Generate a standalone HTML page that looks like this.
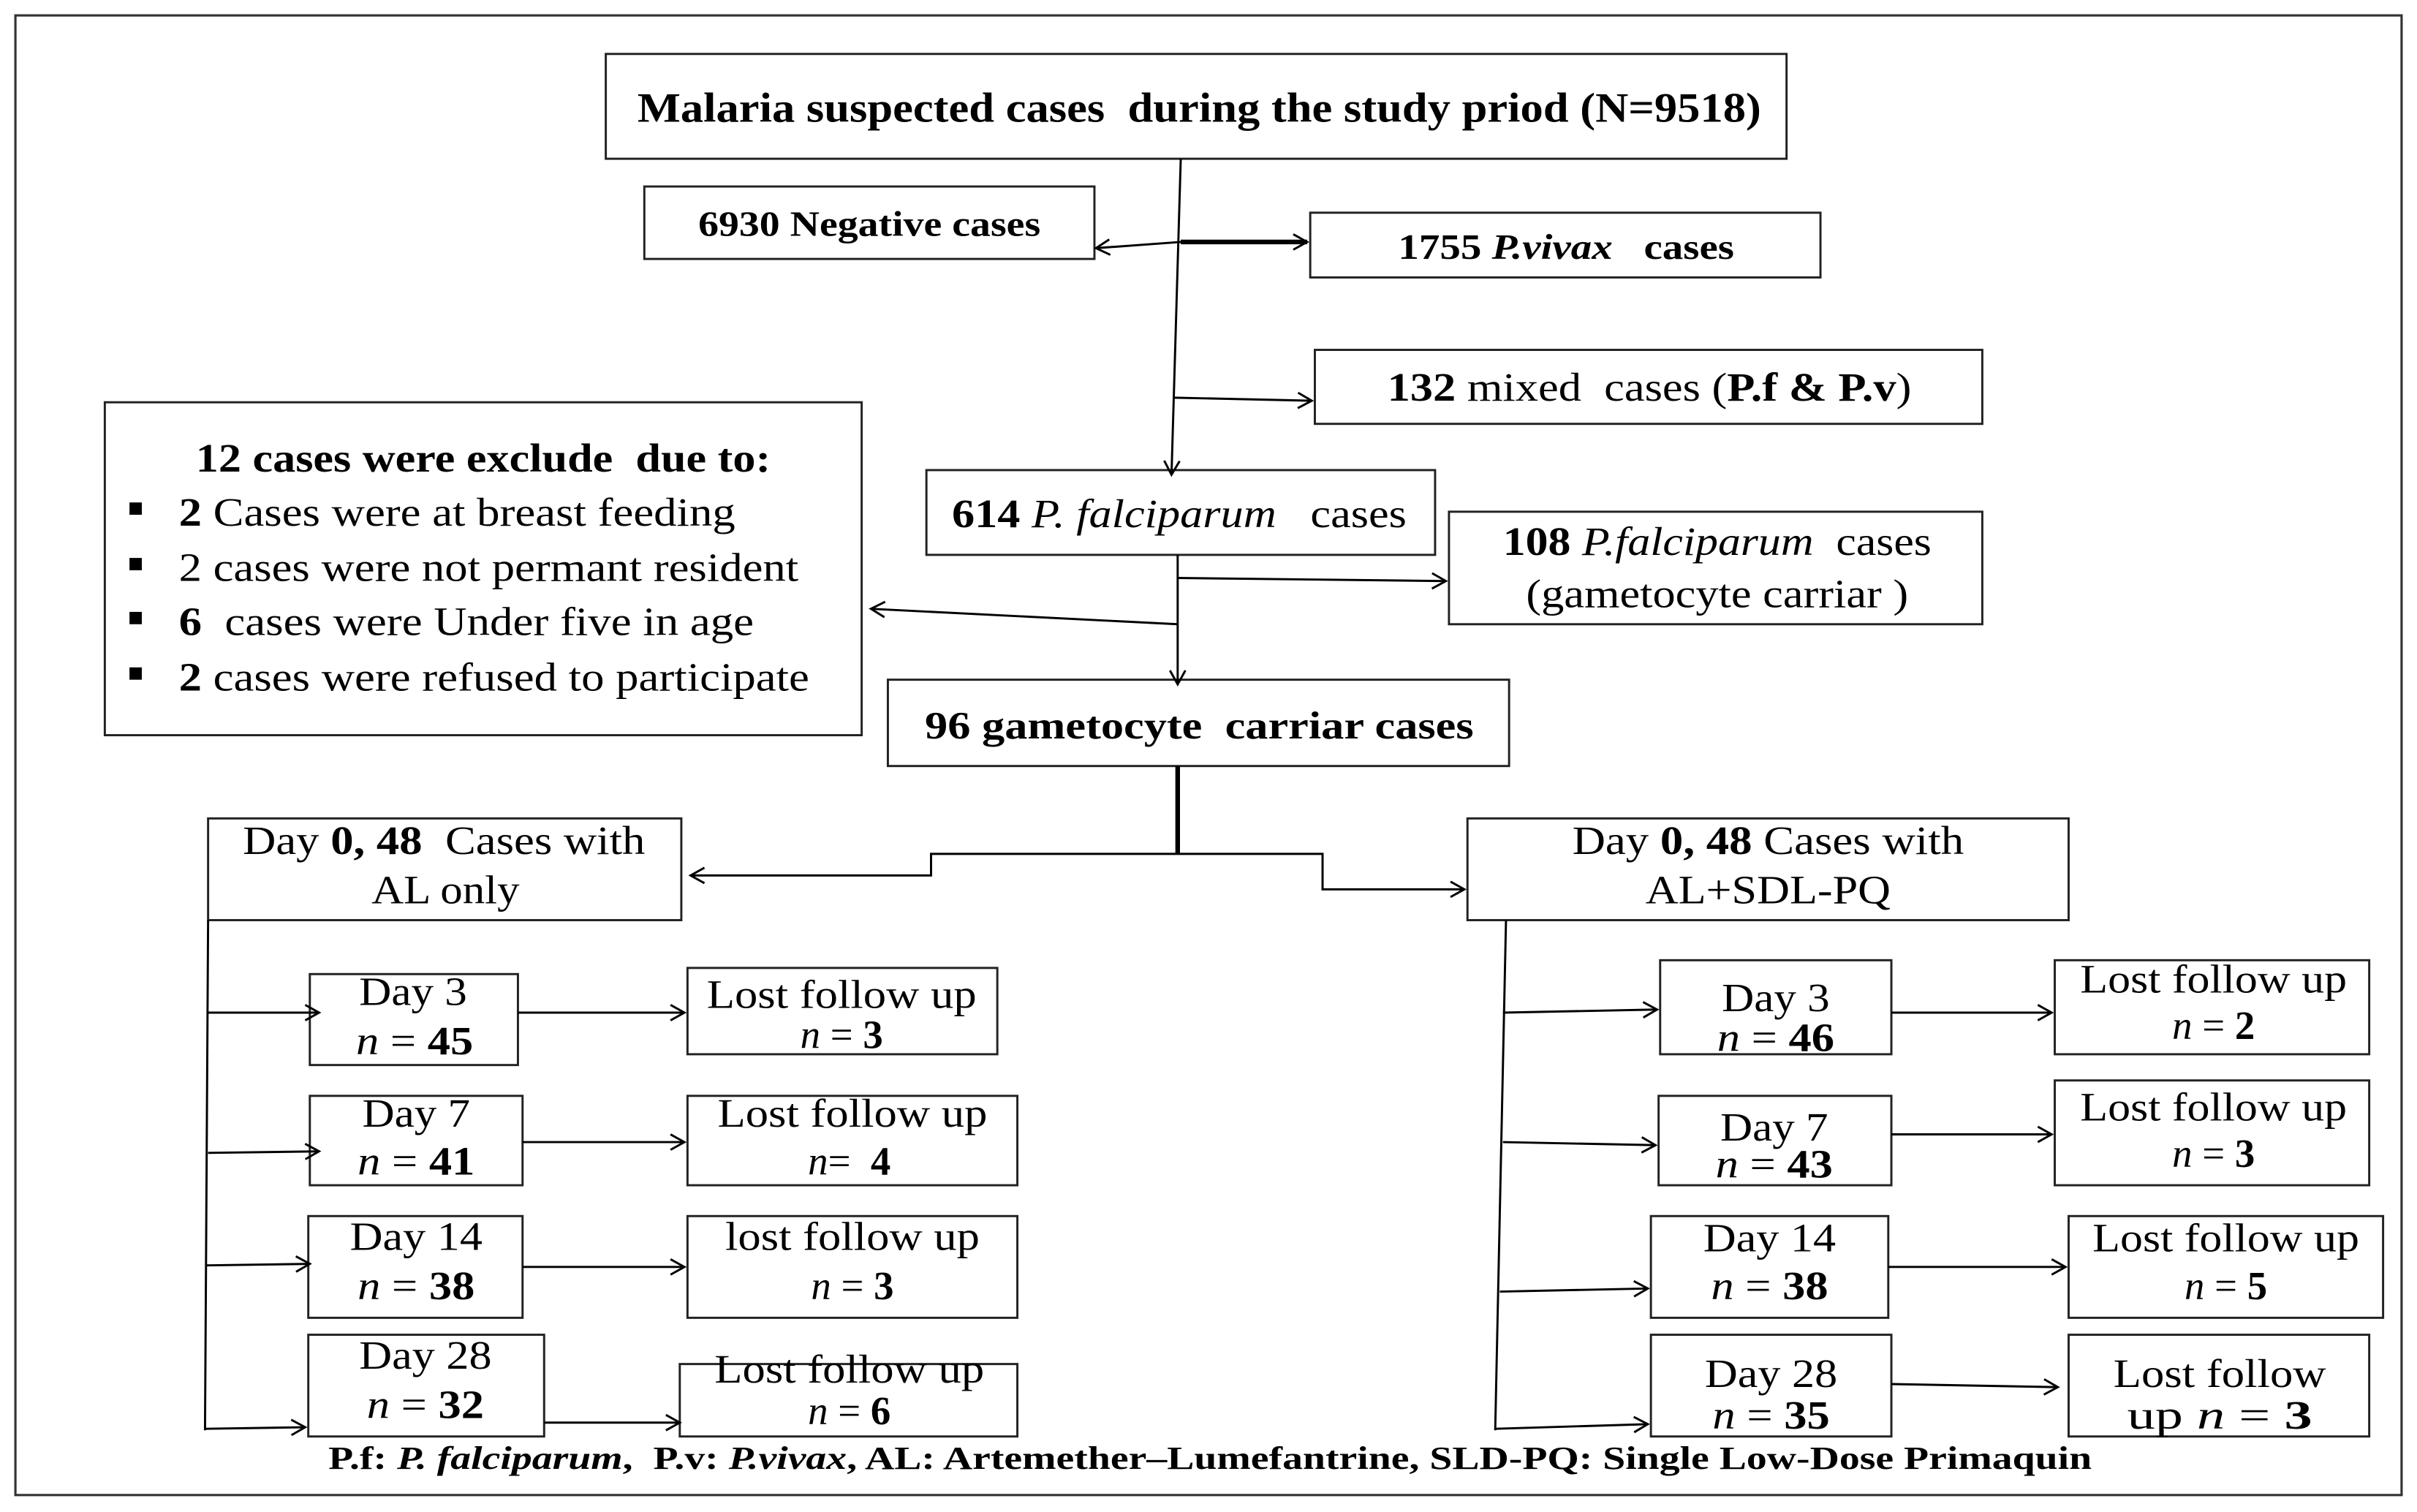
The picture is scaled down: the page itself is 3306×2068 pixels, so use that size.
<!DOCTYPE html>
<html><head><meta charset="utf-8"><style>
html,body{margin:0;padding:0;background:#fff;}
svg{display:block;}
text{font-family:"Liberation Serif",serif;fill:#000;white-space:pre;}
.b{font-weight:bold;}
</style></head><body>
<svg width="3306" height="2068" viewBox="0 0 1568 981" preserveAspectRatio="none" xmlns="http://www.w3.org/2000/svg" xml:space="preserve">
<defs><marker id="a" markerWidth="12" markerHeight="12" refX="10" refY="6" orient="auto" markerUnits="userSpaceOnUse"><polyline points="1,1 10,6 1,11" fill="none" stroke="#000" stroke-width="1.4"/></marker></defs>
<rect x="10" y="10" width="1548" height="960" fill="#fff" stroke="#333" stroke-width="1.5"/>
<g fill="#fff" stroke="#222" stroke-width="1.4">
<rect x="393" y="35" width="766" height="68"/>
<rect x="418" y="121" width="292" height="47"/>
<rect x="850" y="138" width="331" height="42"/>
<rect x="853" y="227" width="433" height="48"/>
<rect x="68" y="261" width="491" height="216"/>
<rect x="601" y="305" width="330" height="55"/>
<rect x="940" y="332" width="346" height="73"/>
<rect x="576" y="441" width="403" height="56"/>
<rect x="135" y="531" width="307" height="66"/>
<rect x="952" y="531" width="390" height="66"/>
<rect x="201" y="632" width="135" height="59"/>
<rect x="446" y="628" width="201" height="56"/>
<rect x="201" y="711" width="138" height="58"/>
<rect x="446" y="711" width="214" height="58"/>
<rect x="200" y="789" width="139" height="66"/>
<rect x="446" y="789" width="214" height="66"/>
<rect x="200" y="866" width="153" height="66"/>
<rect x="441" y="885" width="219" height="47"/>
<rect x="1077" y="623" width="150" height="61"/>
<rect x="1333" y="623" width="204" height="61"/>
<rect x="1076" y="711" width="151" height="58"/>
<rect x="1333" y="701" width="204" height="68"/>
<rect x="1071" y="789" width="154" height="66"/>
<rect x="1342" y="789" width="204" height="66"/>
<rect x="1071" y="866" width="156" height="66"/>
<rect x="1342" y="866" width="195" height="66"/>
</g>
<g stroke="#000" stroke-width="1.4" fill="none">
<line x1="766" y1="103" x2="760" y2="308" marker-end="url(#a)"/>
<line x1="766" y1="157" x2="848" y2="157" stroke-width="3" marker-end="url(#a)"/>
<line x1="766" y1="157" x2="711" y2="161" marker-end="url(#a)"/>
<line x1="761" y1="258" x2="851" y2="260" marker-end="url(#a)"/>
<line x1="764" y1="360" x2="764" y2="444" marker-end="url(#a)"/>
<line x1="764" y1="375" x2="938" y2="377" marker-end="url(#a)"/>
<line x1="764" y1="405" x2="565" y2="395" marker-end="url(#a)"/>
<line x1="764" y1="497" x2="764" y2="554" stroke-width="3"/>
<polyline points="764,554 604,554 604,568 448,568" marker-end="url(#a)"/>
<polyline points="764,554 858,554 858,577 950,577" marker-end="url(#a)"/>
<line x1="135" y1="597" x2="133" y2="928"/>
<line x1="135" y1="657" x2="207" y2="657" marker-end="url(#a)"/>
<line x1="135" y1="748" x2="207" y2="747" marker-end="url(#a)"/>
<line x1="134" y1="821" x2="201" y2="820" marker-end="url(#a)"/>
<line x1="133" y1="927" x2="198" y2="926" marker-end="url(#a)"/>
<line x1="977" y1="597" x2="970" y2="928"/>
<line x1="975" y1="657" x2="1075" y2="655" marker-end="url(#a)"/>
<line x1="975" y1="741" x2="1074" y2="743" marker-end="url(#a)"/>
<line x1="973" y1="838" x2="1069" y2="836" marker-end="url(#a)"/>
<line x1="970" y1="927" x2="1069" y2="924" marker-end="url(#a)"/>
<line x1="336" y1="657" x2="444" y2="657" marker-end="url(#a)"/>
<line x1="339" y1="741" x2="444" y2="741" marker-end="url(#a)"/>
<line x1="339" y1="822" x2="444" y2="822" marker-end="url(#a)"/>
<line x1="353" y1="923" x2="441" y2="923" marker-end="url(#a)"/>
<line x1="1227" y1="657" x2="1331" y2="657" marker-end="url(#a)"/>
<line x1="1227" y1="736" x2="1331" y2="736" marker-end="url(#a)"/>
<line x1="1225" y1="822" x2="1340" y2="822" marker-end="url(#a)"/>
<line x1="1227" y1="898" x2="1335" y2="900" marker-end="url(#a)"/>
</g>
<g font-size="26" text-anchor="middle">
<text x="778" y="79" class="b" font-size="27" textLength="729" lengthAdjust="spacingAndGlyphs">Malaria suspected cases  during the study priod (N=9518)</text>
<text x="564" y="153" class="b" font-size="23" textLength="222" lengthAdjust="spacingAndGlyphs">6930 Negative cases</text>
<text x="1016" y="168" class="b" font-size="23" textLength="218" lengthAdjust="spacingAndGlyphs">1755 <tspan font-style="italic">P.vivax</tspan>   cases</text>
<text x="1070" y="260" textLength="340" lengthAdjust="spacingAndGlyphs"><tspan class="b">132</tspan> mixed  cases (<tspan class="b">P.f &amp; P.v</tspan>)</text>
<text x="765" y="342" textLength="295" lengthAdjust="spacingAndGlyphs"><tspan class="b">614</tspan> <tspan font-style="italic">P. falciparum</tspan>   cases</text>
<text x="1114" y="360" textLength="278" lengthAdjust="spacingAndGlyphs"><tspan class="b">108</tspan> <tspan font-style="italic">P.falciparum</tspan>  cases</text>
<text x="1114" y="394" textLength="248" lengthAdjust="spacingAndGlyphs">(gametocyte carriar )</text>
<text x="778" y="479" class="b" font-size="25" textLength="356" lengthAdjust="spacingAndGlyphs">96 gametocyte  carriar cases</text>
<text x="288" y="554" textLength="261" lengthAdjust="spacingAndGlyphs">Day <tspan class="b">0, 48</tspan>  Cases with</text>
<text x="289" y="586" textLength="96" lengthAdjust="spacingAndGlyphs">AL only</text>
<text x="1147" y="554" textLength="254" lengthAdjust="spacingAndGlyphs">Day <tspan class="b">0, 48</tspan> Cases with</text>
<text x="1147" y="586" textLength="159" lengthAdjust="spacingAndGlyphs">AL+SDL-PQ</text>
</g>
<g font-size="26">
<text x="127" y="306" class="b" textLength="373" lengthAdjust="spacingAndGlyphs">12 cases were exclude  due to:</text>
<rect x="84" y="326" width="8" height="8"/><rect x="84" y="362" width="8" height="8"/><rect x="84" y="397" width="8" height="8"/><rect x="84" y="433" width="8" height="8"/>
<text x="116" y="341" textLength="361" lengthAdjust="spacingAndGlyphs"><tspan class="b">2</tspan> Cases were at breast feeding</text>
<text x="116" y="377" textLength="402" lengthAdjust="spacingAndGlyphs">2 cases were not permant resident</text>
<text x="116" y="412" textLength="373" lengthAdjust="spacingAndGlyphs"><tspan class="b">6</tspan>  cases were Under five in age</text>
<text x="116" y="448" textLength="409" lengthAdjust="spacingAndGlyphs"><tspan class="b">2</tspan> cases were refused to participate</text>
</g>
<g font-size="26" text-anchor="middle">
<text x="268" y="652" textLength="70" lengthAdjust="spacingAndGlyphs">Day 3</text><text x="269" y="684" textLength="76" lengthAdjust="spacingAndGlyphs"><tspan font-style="italic">n</tspan> = <tspan class="b">45</tspan></text>
<text x="546" y="654" textLength="175" lengthAdjust="spacingAndGlyphs">Lost follow up</text><text x="546" y="680"><tspan font-style="italic">n</tspan> = <tspan class="b">3</tspan></text>
<text x="270" y="731" textLength="70" lengthAdjust="spacingAndGlyphs">Day 7</text><text x="270" y="762" textLength="76" lengthAdjust="spacingAndGlyphs"><tspan font-style="italic">n</tspan> = <tspan class="b">41</tspan></text>
<text x="553" y="731" textLength="175" lengthAdjust="spacingAndGlyphs">Lost follow up</text><text x="551" y="762"><tspan font-style="italic">n</tspan>=  <tspan class="b">4</tspan></text>
<text x="270" y="811" textLength="86" lengthAdjust="spacingAndGlyphs">Day 14</text><text x="270" y="843" textLength="76" lengthAdjust="spacingAndGlyphs"><tspan font-style="italic">n</tspan> = <tspan class="b">38</tspan></text>
<text x="553" y="811" textLength="165" lengthAdjust="spacingAndGlyphs">lost follow up</text><text x="553" y="843"><tspan font-style="italic">n</tspan> = <tspan class="b">3</tspan></text>
<text x="276" y="888" textLength="86" lengthAdjust="spacingAndGlyphs">Day 28</text><text x="276" y="920" textLength="76" lengthAdjust="spacingAndGlyphs"><tspan font-style="italic">n</tspan> = <tspan class="b">32</tspan></text>
<text x="551" y="897" textLength="175" lengthAdjust="spacingAndGlyphs">Lost follow up</text><text x="551" y="924"><tspan font-style="italic">n</tspan> = <tspan class="b">6</tspan></text>
<text x="1152" y="656" textLength="70" lengthAdjust="spacingAndGlyphs">Day 3</text><text x="1152" y="682" textLength="76" lengthAdjust="spacingAndGlyphs"><tspan font-style="italic">n</tspan> = <tspan class="b">46</tspan></text>
<text x="1436" y="644" textLength="173" lengthAdjust="spacingAndGlyphs">Lost follow up</text><text x="1436" y="674"><tspan font-style="italic">n</tspan> = <tspan class="b">2</tspan></text>
<text x="1151" y="740" textLength="70" lengthAdjust="spacingAndGlyphs">Day 7</text><text x="1151" y="764" textLength="76" lengthAdjust="spacingAndGlyphs"><tspan font-style="italic">n</tspan> = <tspan class="b">43</tspan></text>
<text x="1436" y="727" textLength="173" lengthAdjust="spacingAndGlyphs">Lost follow up</text><text x="1436" y="757"><tspan font-style="italic">n</tspan> = <tspan class="b">3</tspan></text>
<text x="1148" y="812" textLength="86" lengthAdjust="spacingAndGlyphs">Day 14</text><text x="1148" y="843" textLength="76" lengthAdjust="spacingAndGlyphs"><tspan font-style="italic">n</tspan> = <tspan class="b">38</tspan></text>
<text x="1444" y="812" textLength="173" lengthAdjust="spacingAndGlyphs">Lost follow up</text><text x="1444" y="843"><tspan font-style="italic">n</tspan> = <tspan class="b">5</tspan></text>
<text x="1149" y="900" textLength="86" lengthAdjust="spacingAndGlyphs">Day 28</text><text x="1149" y="927" textLength="76" lengthAdjust="spacingAndGlyphs"><tspan font-style="italic">n</tspan> = <tspan class="b">35</tspan></text>
<text x="1440" y="900" textLength="138" lengthAdjust="spacingAndGlyphs">Lost follow</text><text x="1440" y="927" textLength="120" lengthAdjust="spacingAndGlyphs">up <tspan font-style="italic">n</tspan> = <tspan class="b">3</tspan></text>
</g>
<text x="785" y="953" text-anchor="middle" class="b" font-size="21" textLength="1144" lengthAdjust="spacingAndGlyphs">P.f: <tspan font-style="italic">P. falciparum</tspan>,  P.v: <tspan font-style="italic">P.vivax</tspan>, AL: Artemether–Lumefantrine, SLD-PQ: Single Low-Dose Primaquin</text>
</svg>
</body></html>
